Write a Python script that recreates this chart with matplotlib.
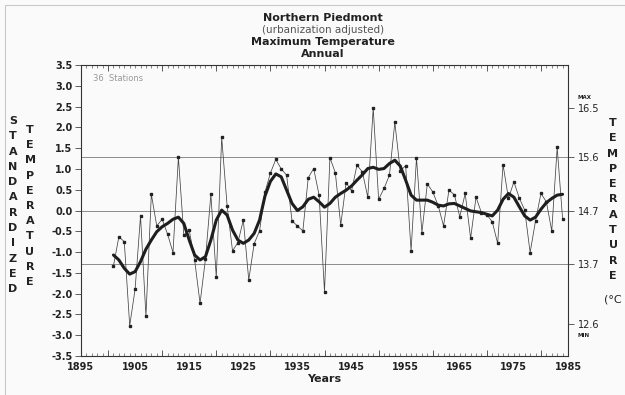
import matplotlib
matplotlib.use('Agg')
import matplotlib.pyplot as plt
from matplotlib.patches import Rectangle

# annual values, standardized units
years = list(range(1901, 1985))
std_temp = [-1.33, -0.63, -0.75, -2.77, -1.89, -0.13, -2.54, 0.39, -0.37, -0.21,
            -0.57, -1.01, 1.28, -0.59, -0.47, -1.19, -2.23, -1.17, 0.39, -1.61,
            1.76, 0.12, -0.97, -0.77, -0.23, -1.67, -0.80, -0.49, 0.44, 0.90,
            1.23, 1.00, 0.85, -0.25, -0.37, -0.49, 0.79, 1.01, 0.37, -1.95,
            1.27, 0.91, -0.35, 0.67, 0.47, 1.09, 0.93, 0.32, 2.47, 0.27,
            0.53, 0.85, 2.12, 0.95, 1.08, -0.97, 1.27, -0.53, 0.64, 0.45,
            0.12, -0.37, 0.49, 0.38, -0.15, 0.41, -0.67, 0.32, -0.05, -0.10,
            -0.27, -0.79, 1.10, 0.29, 0.69, 0.30, 0.01, -1.01, -0.25, 0.41,
            0.21, -0.49, 1.52, -0.20]
smooth = [-1.07, -1.19, -1.39, -1.53, -1.47, -1.23, -0.93, -0.71, -0.51, -0.39,
          -0.31, -0.21, -0.16, -0.31, -0.71, -1.07, -1.19, -1.11, -0.71, -0.23,
          0.01, -0.11, -0.47, -0.71, -0.79, -0.71, -0.55, -0.23, 0.35, 0.70,
          0.88, 0.81, 0.49, 0.17, 0.00, 0.09, 0.27, 0.32, 0.21, 0.08,
          0.17, 0.32, 0.41, 0.49, 0.59, 0.73, 0.86, 1.01, 1.04, 0.99,
          1.01, 1.13, 1.21, 1.07, 0.73, 0.37, 0.25, 0.25, 0.25, 0.20,
          0.13, 0.11, 0.16, 0.17, 0.11, 0.05, -0.01, -0.03, -0.05, -0.09,
          -0.13, 0.01, 0.27, 0.41, 0.32, 0.09, -0.13, -0.23, -0.16, 0.03,
          0.19, 0.29, 0.37, 0.39]

ref_lines = [1.28, 0.0, -1.28]
left_ticks = [3.5, 3.0, 2.5, 2.0, 1.5, 1.0, 0.5, 0.0, -0.5, -1.0, -1.5, -2.0, -2.5, -3.0, -3.5]
right_ticks = [2.47, 1.28, 0.0, -1.28, -2.74]
right_labels = ['16.5', '15.6', '14.7', '13.7', '12.6']
decade_labels = list(range(1895, 1986, 10))

bg = '#fafafa'
fig = plt.figure(figsize=(6.25, 3.95), dpi=100, facecolor=bg)
ax = fig.add_axes([0.1296, 0.0987, 0.7792, 0.7367], facecolor=bg)

for v in ref_lines:
    ax.axhline(v, color='#7a7a7a', lw=0.6, zorder=1)

ax.plot(years, std_temp, color='#444444', lw=0.55, marker='s', ms=1.8,
        mfc='#222222', mec='#222222', zorder=2)
ax.plot(years, smooth, color='#1e1e1e', lw=2.2, zorder=3, solid_capstyle='round')

ax.set_xlim(1895, 1985)
ax.set_ylim(-3.5, 3.5)

bold = dict(fontsize=7, fontweight='bold', color='#222222')
ax.set_yticks(left_ticks)
ax.set_yticklabels(['%.1f' % v for v in left_ticks], **bold)
ax.set_xticks(decade_labels)
ax.set_xticklabels([str(y) for y in decade_labels], **bold)
ax.set_xticks(range(1895, 1986), minor=True)
ax.tick_params(axis='y', direction='out', length=4, width=0.6, color='#444444', pad=2)
ax.tick_params(axis='x', which='both', direction='in', length=2, width=0.5,
               color='#555555', top=True, pad=4)
for s in ax.spines.values():
    s.set_color('#333333')
    s.set_linewidth(0.8)

# longer ticks at mid decades, top and bottom
for side in ['bottom', 'top']:
    sec = ax.secondary_xaxis(side)
    sec.set_xticks(range(1900, 1985, 10))
    sec.tick_params(direction='in', length=4, width=0.6, color='#444444', labelsize=0)
    sec.set_xticklabels([])
    sec.spines[side].set_visible(False)

ax.set_xlabel('Years', fontsize=8, fontweight='bold', color='#222222', labelpad=2)

# right hand temperature scale
ax2 = ax.twinx()
ax2.set_ylim(-3.5, 3.5)
ax2.set_yticks(right_ticks)
ax2.set_yticklabels(right_labels, fontsize=7, color='#222222')
ax2.tick_params(axis='y', direction='out', length=4, width=0.6, color='#444444', pad=3)
for s in ax2.spines.values():
    s.set_visible(False)
ax2.text(1.019, 2.47 + 0.2, 'MAX', transform=ax2.get_yaxis_transform(),
         fontsize=4, fontweight='bold', color='#222222', va='bottom')
ax2.text(1.019, -2.74 - 0.2, 'MIN', transform=ax2.get_yaxis_transform(),
         fontsize=4, fontweight='bold', color='#222222', va='top')

ax.text(0.025, 0.955, '36  Stations', transform=ax.transAxes, fontsize=6,
        color='#999999', va='center')

# titles
cx = 323 / 625
fig.text(cx, 1 - 18 / 395, 'Northern Piedmont', ha='center', va='center',
         fontsize=8, fontweight='bold', color='#222222')
fig.text(cx, 1 - 30 / 395, '(urbanization adjusted)', ha='center', va='center',
         fontsize=7.5, color='#555555')
fig.text(cx, 1 - 42 / 395, 'Maximum Temperature', ha='center', va='center',
         fontsize=8, fontweight='bold', color='#222222')
fig.text(cx, 1 - 54 / 395, 'Annual', ha='center', va='center',
         fontsize=8, fontweight='bold', color='#222222')

# stacked axis titles
def stack(word, x, y0, step):
    for i, ch in enumerate(word):
        fig.text(x / 625, 1 - (y0 + i * step) / 395, ch, ha='center', va='center',
                 fontsize=8, fontweight='bold', color='#222222')

stack('STANDARDIZED', 13, 121, 15.3)
stack('TEMPERATURE', 30, 130, 15.2)
stack('TEMPERATURE', 613, 123, 15.3)
fig.text(613 / 625, 1 - 299 / 395, '(°C', ha='center', va='center',
         fontsize=8, color='#222222')

fig.add_artist(Rectangle((5 / 625, -0.01), 1.1, 1 - 5 / 395 + 0.01,
                         transform=fig.transFigure, fill=False,
                         edgecolor='#c8c8c8', lw=0.8))

plt.savefig('out.png', dpi=100, facecolor=bg)
